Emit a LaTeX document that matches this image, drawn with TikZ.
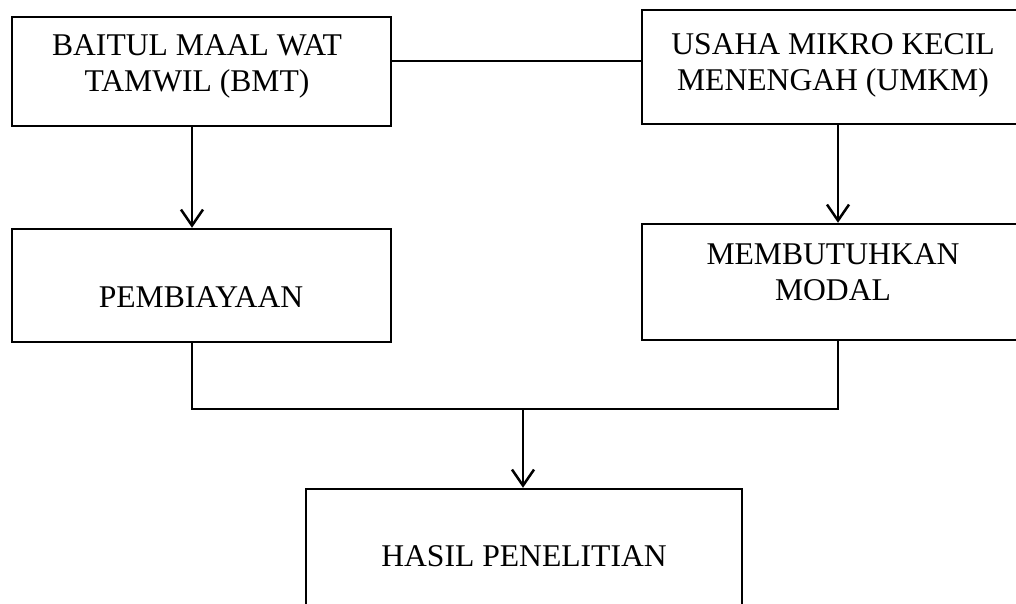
\documentclass[tikz,border=0pt]{standalone}
\usepackage{fontspec}
\setmainfont{Liberation Serif}
\usetikzlibrary{arrows.meta}

\tikzset{
  box/.style={draw, line width=0.05cm, inner sep=0pt},
  lbl/.style={align=center, font=\fontsize{18}{20.5}\selectfont, inner sep=0pt},
  link/.style={line width=0.05cm},
  flow/.style={line width=0.05cm, -{Straight Barb[length=0.32cm, width=0.44cm]}}
}

\begin{document}
\begin{tikzpicture}[x=0.02cm, y=-0.02cm]
    \useasboundingbox (0,0) rectangle (1016,604);
    \clip (0,0) rectangle (1016,604);

    % Boxes
    \node [box, minimum width=7.58cm, minimum height=2.18cm] (bmt) at (201.5,71.5) {};
    \node [box, minimum width=7.76cm, minimum height=2.28cm] (umkm) at (836,67) {};
    \node [box, minimum width=7.58cm, minimum height=2.26cm] (biaya) at (201.5,285.5) {};
    \node [box, minimum width=7.76cm, minimum height=2.32cm] (modal) at (836,282) {};
    \node [box, minimum width=8.72cm, minimum height=2.62cm] (hasil) at (524,554.5) {};

    % Texts
    \node [lbl] (bmttxt) at (197,66) {BAITUL MAAL WAT\\TAMWIL (BMT)};
    \node [lbl] (umkmtxt) at (833,65.5) {USAHA MIKRO KECIL\\MENENGAH (UMKM)};
    \node [lbl] (biayatxt) at (201,297) {PEMBIAYAAN};
    \node [lbl] (modaltxt) at (833,272) {MEMBUTUHKAN\\MODAL};
    \node [lbl] (hasiltxt) at (524,556) {HASIL PENELITIAN};

    % Connectors
    \coordinate (bridge) at (0,61);
    \coordinate (colL) at (192,0);
    \coordinate (colR) at (838,0);
    \coordinate (join) at (523,409);
    \draw [link] (bmt.east |- bridge) -- (umkm.west |- bridge);
    \draw [flow] (colL |- bmt.south) -- (colL |- biaya.north);
    \draw [flow] (colR |- umkm.south) -- (colR |- modal.north);
    \draw [link] (colL |- biaya.south) -- (colL |- join) -- (colR |- join) -- (colR |- modal.south);
    \draw [flow] (join) -- (join |- hasil.north);
\end{tikzpicture}
\end{document}
